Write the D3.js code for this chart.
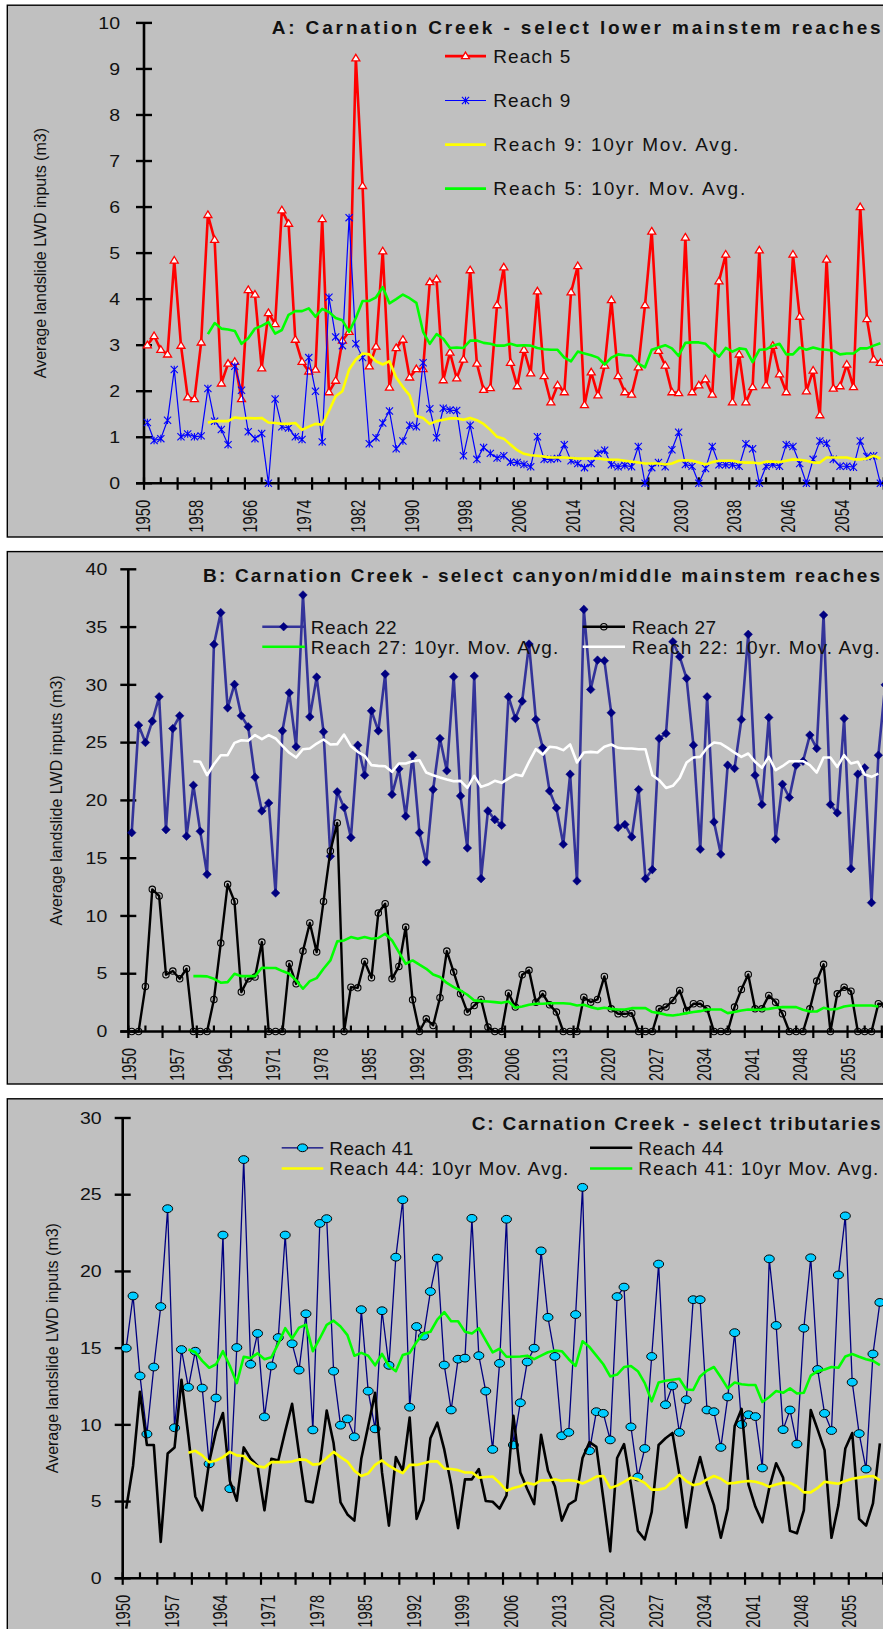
<!DOCTYPE html>
<html><head><meta charset="utf-8">
<script src="https://cdn.jsdelivr.net/npm/d3@7"></script>
<style>
html,body{margin:0;padding:0;background:#fff;}
svg{display:block;}
text{font-family:"Liberation Sans",Arial,Helvetica,sans-serif;}
</style></head><body>
<svg id="chart" width="883" height="1629"></svg>
<script>
// ---------------- categories ----------------
const years = d3.range(1950, 2070);          // category axis (chart extends beyond the visible edge)
const maStartYear = 1959;                    // moving averages begin here
const xLabelsA = d3.range(1950, 2060, 8);
const xLabelsBC = d3.range(1950, 2060, 7);
const yTicksA = d3.range(0, 11, 1);
const yTicksB = d3.range(0, 41, 5);
const yTicksC = d3.range(0, 31, 5);

// ---------------- Panel A : lower mainstem reaches ----------------
const reach5 = [3.0,3.2,2.9,2.8,4.84,2.99,1.87,1.83,3.06,5.83,
5.29,2.17,2.6,2.64,1.83,4.2,4.1,2.5,3.7,3.46,
5.93,5.64,3.12,2.64,2.43,2.47,5.74,1.98,2.23,3.1,
3.29,9.23,6.46,2.54,2.97,5.04,2.08,2.94,3.12,2.3,
2.48,2.48,4.37,4.43,2.24,2.84,2.28,2.69,4.63,2.6,
2.03,2.07,3.87,4.69,2.62,2.11,2.9,2.39,4.17,2.33,
1.76,2.13,1.98,4.15,4.72,1.7,2.41,1.91,2.56,3.98,
2.33,1.98,1.93,2.52,3.87,5.47,2.88,2.56,1.98,1.96,
5.34,1.98,2.13,2.26,1.93,4.39,4.97,1.76,2.8,1.76,
2.09,5.06,2.13,2.99,2.37,1.98,4.97,3.62,2.0,2.45,
1.48,4.86,2.06,2.11,2.58,2.09,6.0,3.57,2.69,2.62];
const reach9 = [1.32,0.93,0.97,1.37,2.47,1.01,1.07,1.01,1.03,2.06,
1.35,1.17,0.84,2.54,2.02,1.12,0.97,1.08,0.0,1.83,
1.23,1.2,1.01,0.95,2.73,2.0,0.9,4.04,3.18,2.99,
5.77,3.03,2.73,0.86,0.99,1.31,1.57,0.75,0.92,1.26,
1.23,2.62,1.62,0.99,1.63,1.59,1.58,0.6,1.26,0.52,
0.78,0.65,0.55,0.6,0.46,0.45,0.41,0.36,1.01,0.52,
0.52,0.54,0.84,0.49,0.43,0.34,0.43,0.65,0.72,0.4,
0.36,0.39,0.36,0.8,0.0,0.34,0.45,0.36,0.73,1.11,
0.41,0.37,0.0,0.32,0.8,0.4,0.4,0.4,0.37,0.86,
0.75,0.0,0.37,0.41,0.37,0.84,0.8,0.43,0.0,0.52,
0.92,0.87,0.52,0.37,0.37,0.35,0.92,0.58,0.6,0.0];
const reach9MA = [1.32,1.35,1.35,1.35,1.43,1.41,1.42,1.41,1.42,1.32,1.31,
1.29,1.29,1.31,1.16,1.23,1.29,1.27,1.57,1.89,2.0,
2.47,2.69,2.82,2.8,2.65,2.58,2.65,2.3,2.09,1.91,1.46,1.42,
1.29,1.35,1.38,1.41,1.41,1.38,1.42,1.37,1.29,1.16,
1.01,0.97,0.84,0.72,0.64,0.61,0.6,0.58,0.56,0.56,
0.56,0.55,0.54,0.54,0.54,0.54,0.52,0.51,0.51,0.49,
0.47,0.45,0.43,0.43,0.43,0.41,0.43,0.49,0.5,0.49,
0.45,0.41,0.46,0.49,0.49,0.49,0.46,0.45,0.45,0.43,
0.47,0.47,0.46,0.49,0.52,0.51,0.49,0.45,0.45,0.56,
0.56,0.56,0.56,0.52,0.52,0.54,0.6,0.54];
const reach5MA = [3.24,3.48,3.36,3.34,3.31,3.03,3.15,3.36,3.42,3.5,
3.25,3.33,3.66,3.74,3.74,3.8,3.62,3.79,3.72,3.59,
3.54,3.29,3.59,3.96,3.96,4.04,4.26,3.91,4.0,4.1,
4.02,3.92,3.29,
3.03,3.24,3.14,2.94,2.95,2.94,3.1,3.1,3.05,3.03,
2.99,2.99,3.03,2.99,3.0,2.99,2.94,2.91,2.9,2.9,
2.73,2.65,2.86,2.82,2.78,2.73,2.58,2.73,2.8,2.78,
2.77,2.6,2.52,2.9,2.95,3.0,2.93,2.77,3.05,3.06,
3.06,3.03,2.88,2.75,2.94,2.86,2.93,2.91,2.63,2.9,
2.91,2.99,3.03,2.8,2.8,2.95,2.9,2.95,2.91,2.9,
2.88,2.8,2.82,2.82,2.93,2.93,2.99,3.04];

// ---------------- Panel B : canyon / middle mainstem ----------------
const reach22 = [17.21,26.51,25.01,26.86,28.97,17.47,26.22,27.32,16.9,21.31,
17.33,13.6,33.5,36.25,28.01,30.04,27.32,26.37,22.01,19.09,
19.78,11.99,26.02,29.31,24.64,37.78,27.23,30.67,25.94,15.16,
20.74,19.38,16.78,24.78,22.18,27.75,26.02,30.93,20.51,22.73,
18.63,23.91,17.21,14.67,20.94,25.36,22.56,30.7,20.39,15.88,
30.76,13.23,19.09,18.34,17.85,28.97,27.09,28.59,33.53,27.0,
24.55,20.82,19.35,16.2,22.27,13.03,36.53,29.6,32.14,32.09,
27.58,17.65,17.91,16.84,20.94,13.23,14.01,25.36,25.79,33.73,
32.43,30.56,24.78,15.77,28.97,18.14,15.34,23.05,22.76,27.0,
34.37,22.18,19.64,27.18,16.64,21.4,20.25,23.05,23.39,25.65,
24.49,36.04,19.64,18.92,27.09,14.09,22.27,22.82,11.15,23.91,30.0];
const reach27 = [0,0,3.9,12.3,11.73,4.91,5.23,4.56,5.43,0,
0,0,2.77,7.65,12.74,11.26,3.41,4.56,4.71,7.74,
0,0,0,5.86,4.13,6.96,9.39,6.87,11.26,15.62,
18.05,0,3.84,3.78,6.06,4.65,10.25,11.06,4.56,5.63,
9.04,2.74,0,1.1,0.52,2.92,6.96,5.14,3.26,1.68,
2.25,2.77,0.38,0,0,3.32,2.11,4.91,5.29,2.54,
3.26,2.31,1.68,0,0,0,2.97,2.54,2.77,4.77,
1.96,1.53,1.53,1.59,0,0,0,1.96,2.11,2.69,
3.55,1.82,2.4,2.4,1.96,0,0,0,2.11,3.64,
4.94,1.96,1.96,3.12,2.54,1.53,0,0,0,1.96,
4.36,5.81,0,3.26,3.84,3.49,0,0,0,2.4,2.3];
const reach27MA = [4.79,4.79,4.77,4.56,4.22,4.27,5.0,4.79,4.79,4.79,
5.52,5.49,5.49,5.23,5.0,4.42,3.7,4.36,4.62,5.43,
6.15,7.8,7.88,8.17,8.03,8.17,8.03,8.09,8.46,7.88,
6.87,5.86,6.15,5.78,5.43,4.94,4.71,4.2,
3.84,3.55,3.18,2.69,2.63,2.6,2.54,2.48,2.6,2.05,
2.17,2.31,2.4,2.4,2.45,2.45,2.45,2.4,2.25,2.31,
2.11,1.96,2.05,1.96,1.91,1.91,2.02,2.02,2.02,1.68,
1.59,1.44,1.39,1.47,1.59,1.68,1.76,1.91,1.91,1.91,
1.59,1.68,1.82,1.91,1.88,1.91,1.96,2.05,2.11,2.11,
2.11,1.88,1.73,1.73,2.05,1.91,1.96,2.17,2.25,2.25,
2.25,2.25,2.17];
const reach22MA = [23.39,23.34,22.18,23.13,23.91,23.91,24.98,25.21,25.16,25.65,
25.3,25.65,25.36,24.72,24.12,23.71,24.43,24.49,24.92,25.27,
24.84,24.87,25.7,24.69,24.2,23.86,23.05,22.99,22.96,22.47,
23.19,23.19,23.39,23.48,22.41,22.18,21.98,21.81,
21.66,21.69,21.08,22.12,21.17,21.37,21.69,21.52,21.89,22.24,
22.12,23.34,24.43,23.97,24.64,24.58,24.35,24.84,23.28,24.14,
24.2,24.14,24.64,24.84,24.55,24.49,24.49,24.43,24.43,22.18,
21.75,21.08,21.26,21.95,23.28,23.71,23.77,24.55,25.01,24.92,
24.55,24.14,23.77,24.06,23.34,22.82,23.77,22.61,22.96,23.39,
23.39,23.39,23.05,22.41,23.71,23.71,22.9,23.91,23.19,23.34,
22.24,22.04,22.32];

// ---------------- Panel C : tributaries ----------------
const reach41 = [15.0,18.4,13.19,9.4,13.77,17.71,24.09,9.81,14.91,12.45,
14.8,12.4,7.46,11.75,22.37,5.84,15.04,27.29,13.95,15.96,
10.52,13.84,15.69,22.37,15.29,13.57,17.24,9.67,23.13,23.44,
13.5,9.98,10.39,9.22,17.51,12.2,9.74,17.44,13.88,20.93,
24.67,11.15,16.41,15.78,18.69,20.87,13.9,10.97,14.28,14.35,
23.46,14.51,12.2,8.4,14.01,23.4,8.69,11.44,14.1,15.0,
21.34,17.01,14.46,9.29,9.51,17.19,25.48,8.31,10.86,10.75,
9.02,18.36,18.98,9.87,6.6,8.46,14.46,20.48,11.31,12.54,
9.51,11.64,18.16,18.16,10.97,10.86,8.53,11.82,16.01,10.03,
10.66,10.54,7.19,20.82,16.48,9.69,10.97,8.75,16.3,20.89,
13.61,10.75,9.63,19.77,23.62,12.78,9.43,7.12,14.62,17.98];
const reach44 = [4.54,7.34,12.16,8.69,8.69,2.37,8.13,8.53,12.94,9.25,
5.33,4.43,7.57,9.58,10.77,6.34,5.06,8.53,7.79,7.34,
4.43,7.79,7.68,9.58,11.37,8.13,5.04,4.95,7.34,10.93,
8.8,4.95,4.16,3.76,7.79,9.92,12.09,6.9,3.43,7.9,
7.01,10.48,3.87,5.1,9.13,10.14,8.4,6.11,3.27,6.45,
6.45,7.12,5.04,4.99,4.54,5.4,10.59,6.9,5.82,4.84,
9.36,7.01,6.0,3.76,4.81,5.1,7.84,8.87,8.57,5.22,
1.75,7.84,8.75,6.11,3.09,2.53,4.32,8.69,9.13,9.47,
6.78,3.31,6.22,7.9,6.11,4.77,2.64,4.54,9.92,11.04,
6.11,4.66,3.65,5.89,7.5,6.56,3.09,2.93,4.43,10.97,
9.69,8.35,2.64,4.77,8.46,9.47,3.87,3.43,4.88,8.8];
const reach44MA = [8.19,8.31,8.01,7.57,7.68,7.9,8.24,8.01,7.97,7.57,
7.3,7.23,7.57,7.57,7.57,7.61,7.75,7.72,7.41,7.46,
7.84,8.24,7.9,7.61,7.01,6.67,6.83,7.39,7.68,7.34,
7.07,6.85,7.39,7.39,7.5,7.61,7.63,7.16,
7.12,7.05,6.9,6.9,6.56,6.6,6.63,6.22,5.71,5.89,
6.0,6.22,6.11,6.38,6.38,6.45,6.34,6.4,6.34,6.18,
6.38,6.63,6.67,5.89,6.04,6.29,6.56,6.45,6.22,5.78,
5.78,5.89,6.34,6.74,6.34,6.07,6.16,6.45,6.67,6.49,
6.18,6.22,6.29,6.34,6.29,6.16,5.96,6.11,6.22,6.22,
6.0,5.6,5.6,5.89,6.29,6.22,6.16,6.34,6.49,6.56,
6.63,6.67,6.38];
const reach41MA = [14.91,14.73,14.17,13.72,13.95,14.8,13.84,12.72,14.44,14.35,
14.66,14.28,14.4,15.29,16.3,15.63,16.34,16.52,14.8,15.63,
16.52,16.79,16.41,15.85,14.51,14.69,14.51,13.88,14.62,13.84,
13.5,14.55,14.69,15.4,15.96,16.07,16.86,17.35,
16.75,16.75,16.07,15.96,16.3,15.51,14.73,14.96,14.44,14.44,
14.46,14.51,14.28,14.51,14.73,14.84,14.8,14.28,13.84,15.45,
15.07,14.51,13.95,13.16,13.28,13.77,13.84,13.5,12.72,11.53,
12.76,12.87,12.94,13.01,12.31,12.27,13.16,13.54,13.77,13.1,
12.38,12.76,12.65,12.6,12.6,11.49,11.82,12.2,12.09,12.38,
12.04,12.09,13.21,13.5,13.61,13.77,13.72,14.46,14.62,14.44,
14.28,14.17,13.9];

// ---------------- drawing ----------------
const svg = d3.select("#chart");
svg.append("rect").attr("width", 883).attr("height", 1629).attr("fill", "#fff");

const markerPaths = {
  triangle: "M0,-4 L4,2.6 L-4,2.6 Z",
  star: "M-3.6,-3.6 L3.6,3.6 M-3.6,3.6 L3.6,-3.6 M0,-3.8 L0,3.8",
  diamond: "M0,-4.3 L4.3,0 L0,4.3 L-4.3,0 Z"
};

function drawMarker(g, type, s, px, py) {
  if (type === "circle") {
    g.append("circle").attr("cx", px).attr("cy", py).attr("r", 3.2)
      .attr("fill", "none").attr("stroke", "#000").attr("stroke-width", 1.1);
  } else if (type === "ellipse") {
    g.append("ellipse").attr("cx", px).attr("cy", py).attr("rx", 5).attr("ry", 3.9)
      .attr("fill", "#00ccff").attr("stroke", "#000").attr("stroke-width", 1);
  } else if (type === "triangle") {
    g.append("path").attr("d", markerPaths.triangle).attr("transform", `translate(${px},${py})`)
      .attr("fill", "#fff").attr("stroke", s.color).attr("stroke-width", 1.3);
  } else if (type === "star") {
    g.append("path").attr("d", markerPaths.star).attr("transform", `translate(${px},${py})`)
      .attr("fill", "none").attr("stroke", s.color).attr("stroke-width", 1.1);
  } else if (type === "diamond") {
    g.append("path").attr("d", markerPaths.diamond).attr("transform", `translate(${px},${py})`)
      .attr("fill", "#000080").attr("stroke", "#000080").attr("stroke-width", 0.5);
  }
}

function panel(cfg) {
  const g = svg.append("g");
  g.append("rect").attr("x", 7.3).attr("y", cfg.boxTop).attr("width", 1000)
    .attr("height", cfg.boxBottom - cfg.boxTop).attr("fill", "#c0c0c0")
    .attr("stroke", "#000").attr("stroke-width", 1.4);

  const x = d3.scaleBand().domain(years).range([cfg.axisX, cfg.axisX + years.length * cfg.step]);
  const y = d3.scaleLinear().domain([0, cfg.ymax]).range([cfg.y0, cfg.yTop]);
  const cx = yr => x(yr) + x.bandwidth() / 2;

  // y axis title
  g.append("text")
    .attr("transform", `translate(${cfg.yTitleX},${(cfg.y0 + cfg.yTop) / 2}) rotate(-90)`)
    .attr("text-anchor", "middle").attr("dy", "0.35em")
    .attr("font-size", 16).attr("fill", "#111")
    .text("Average landslide LWD inputs (m3)");

  // y axis
  g.append("line").attr("x1", cfg.axisX).attr("x2", cfg.axisX).attr("y1", cfg.yTop).attr("y2", cfg.y0)
    .attr("stroke", "#000").attr("stroke-width", 2.6);
  cfg.yTicks.forEach(t => {
    g.append("line").attr("x1", cfg.axisX - 8).attr("x2", cfg.axisX + 8)
      .attr("y1", y(t)).attr("y2", y(t)).attr("stroke", "#000").attr("stroke-width", 2.4);
    g.append("text")
      .attr("transform", `translate(${cfg.yLabelRight},${y(t)}) scale(1.22,1)`)
      .attr("text-anchor", "end").attr("dy", "0.36em")
      .attr("font-size", 16).attr("fill", "#111").text(t);
  });

  // x axis
  g.append("line").attr("x1", cfg.axisX - 8).attr("x2", 900).attr("y1", cfg.y0).attr("y2", cfg.y0)
    .attr("stroke", "#000").attr("stroke-width", 2.6);
  years.forEach((yr, i) => {
    if (i % 5 === 0) {
      g.append("line").attr("x1", x(yr)).attr("x2", x(yr)).attr("y1", cfg.y0 - 6).attr("y2", cfg.y0 + 6.5)
        .attr("stroke", "#000").attr("stroke-width", 2.2);
    } else if (i % 5 === 2) {
      g.append("line").attr("x1", cx(yr)).attr("x2", cx(yr)).attr("y1", cfg.y0 - 6).attr("y2", cfg.y0)
        .attr("stroke", "#000").attr("stroke-width", 2.2);
    }
  });
  cfg.xLabels.forEach(yr => {
    const fs = 21;
    g.append("text")
      .attr("transform", `translate(${x(yr) + cfg.labelShift + 0.36 * fs},${cfg.y0 + 16.5 + 33}) rotate(-90)`)
      .attr("text-anchor", "start").attr("font-size", fs).attr("fill", "#111")
      .attr("textLength", 33).attr("lengthAdjust", "spacingAndGlyphs")
      .text(yr);
  });

  // series
  cfg.series.forEach(s => {
    const pts = s.values.map((v, i) => [cx(s.start + i), y(v)]);
    g.append("path").attr("d", d3.line()(pts)).attr("fill", "none")
      .attr("stroke", s.color).attr("stroke-width", s.width).attr("stroke-linejoin", "round");
    if (s.marker) pts.forEach(p => drawMarker(g, s.marker, s, p[0], p[1]));
  });

  // legend
  cfg.legend.forEach(L => {
    const s = cfg.series[L.idx];
    g.append("line").attr("x1", L.x1).attr("x2", L.x2).attr("y1", L.y).attr("y2", L.y)
      .attr("stroke", s.color).attr("stroke-width", s.width);
    if (s.marker) drawMarker(g, s.marker, s, (L.x1 + L.x2) / 2, L.y);
    g.append("text").attr("x", L.tx).attr("y", L.y).attr("dy", "0.36em")
      .attr("font-size", 19).attr("fill", "#111")
      .attr("textLength", L.len).attr("lengthAdjust", "spacing").text(s.name);
  });

  // title
  g.append("text").attr("x", cfg.titleX).attr("y", cfg.titleY)
    .attr("font-size", 19).attr("font-weight", "bold").attr("fill", "#111")
    .attr("textLength", cfg.titleLen).attr("lengthAdjust", "spacing").text(cfg.title);
}

panel({
  boxTop: 5.2, boxBottom: 537, axisX: 144, step: 6.725, y0: 483.3, yTop: 22.9, ymax: 10,
  yTicks: yTicksA, yLabelRight: 120, yTitleX: 40.5, xLabels: xLabelsA, labelShift: -2,
  title: "A: Carnation Creek - select lower mainstem reaches", titleX: 271.7, titleY: 33.5, titleLen: 609,
  series: [
    {name: "Reach 5", values: reach5, start: 1950, color: "#ff0000", width: 2.6, marker: "triangle"},
    {name: "Reach 9", values: reach9, start: 1950, color: "#0000ff", width: 1.2, marker: "star"},
    {name: "Reach 9: 10yr Mov. Avg.", values: reach9MA, start: maStartYear, color: "#ffff00", width: 2.6},
    {name: "Reach 5: 10yr. Mov. Avg.", values: reach5MA, start: maStartYear, color: "#00ff00", width: 2.6}
  ],
  legend: [
    {idx: 0, x1: 445, x2: 486, tx: 493.3, y: 56.1, len: 77},
    {idx: 1, x1: 445, x2: 486, tx: 493.3, y: 100.5, len: 77},
    {idx: 2, x1: 445, x2: 486, tx: 493.3, y: 144.6, len: 245},
    {idx: 3, x1: 445, x2: 486, tx: 493.3, y: 188.6, len: 252}
  ]
});

panel({
  boxTop: 551.6, boxBottom: 1084, axisX: 128.3, step: 6.85, y0: 1031.5, yTop: 569.3, ymax: 40,
  yTicks: yTicksB, yLabelRight: 107.3, yTitleX: 56.7, xLabels: xLabelsBC, labelShift: 0,
  title: "B: Carnation Creek - select canyon/middle mainstem reaches", titleX: 203, titleY: 581.7, titleLen: 677,
  series: [
    {name: "Reach 22", values: reach22, start: 1950, color: "#333399", width: 2.6, marker: "diamond"},
    {name: "Reach 27", values: reach27, start: 1950, color: "#000000", width: 2.4, marker: "circle"},
    {name: "Reach 27: 10yr. Mov. Avg.", values: reach27MA, start: maStartYear, color: "#00ff00", width: 2.6},
    {name: "Reach 22: 10yr. Mov. Avg.", values: reach22MA, start: maStartYear, color: "#ffffff", width: 2.6}
  ],
  legend: [
    {idx: 0, x1: 262.3, x2: 305, tx: 310.7, y: 626.7, len: 86},
    {idx: 2, x1: 262.3, x2: 305, tx: 310.7, y: 646.7, len: 247.6},
    {idx: 1, x1: 582.7, x2: 625, tx: 631.7, y: 626.7, len: 84.3},
    {idx: 3, x1: 582.7, x2: 625, tx: 631.7, y: 646.7, len: 248}
  ]
});

panel({
  boxTop: 1098.8, boxBottom: 1700, axisX: 122.7, step: 6.915, y0: 1578.3, yTop: 1118, ymax: 30,
  yTicks: yTicksC, yLabelRight: 101.7, yTitleX: 52.5, xLabels: xLabelsBC, labelShift: 0,
  title: "C: Carnation Creek - select tributaries", titleX: 471.7, titleY: 1129.6, titleLen: 409,
  series: [
    {name: "Reach 41", values: reach41, start: 1950, color: "#000080", width: 1.3, marker: "ellipse"},
    {name: "Reach 44", values: reach44, start: 1950, color: "#000000", width: 2.6},
    {name: "Reach 44: 10yr Mov. Avg.", values: reach44MA, start: maStartYear, color: "#ffff00", width: 2.6},
    {name: "Reach 41: 10yr Mov. Avg.", values: reach41MA, start: maStartYear, color: "#00ff00", width: 2.6}
  ],
  legend: [
    {idx: 0, x1: 281.7, x2: 323.3, tx: 329.3, y: 1147.8, len: 84},
    {idx: 2, x1: 281.7, x2: 323.3, tx: 329.3, y: 1168.5, len: 239},
    {idx: 1, x1: 590, x2: 632.3, tx: 638.3, y: 1147.8, len: 85},
    {idx: 3, x1: 590, x2: 632.3, tx: 638.3, y: 1168.5, len: 240}
  ]
});
</script>
</body></html>
